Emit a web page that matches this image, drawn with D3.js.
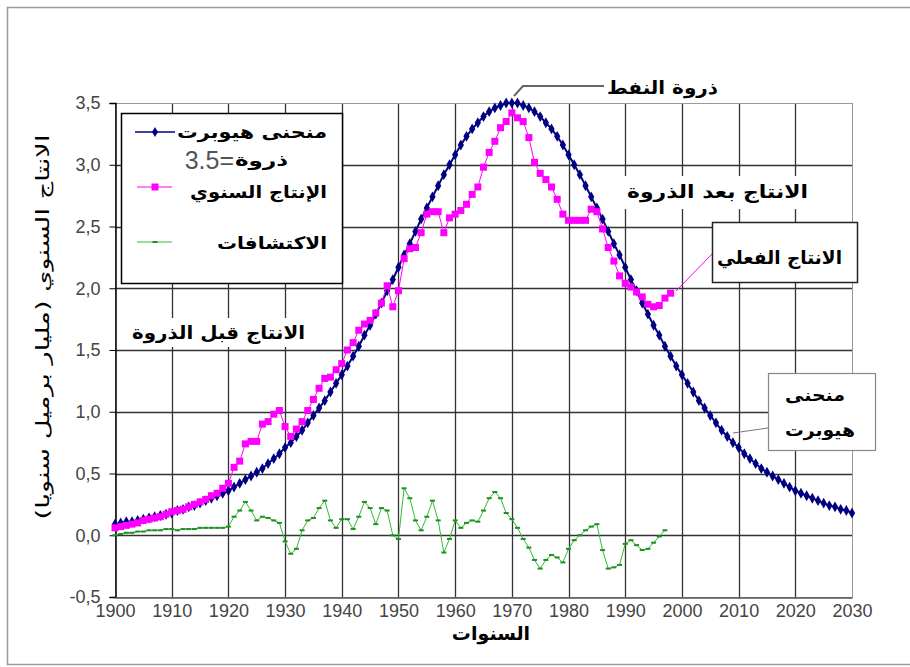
<!DOCTYPE html>
<html>
<head>
<meta charset="utf-8">
<script src="https://cdn.jsdelivr.net/npm/d3@7"></script>
<style>
body { margin:0; background:#fff; }
svg { display:block; }
</style>
</head>
<body>
<svg width="910" height="667"></svg>
<script>
/**********************
* data
**********************/
var x_ticks = [1900,1910,1920,1930,1940,1950,1960,1970,1980,1990,2000,2010,2020,2030]
var y_ticks = [-0.5,0,0.5,1,1.5,2,2.5,3,3.5]

/* hubbert curve, one value per year from 1900 to 2030 */
var hubbert_start = 1900
var hubbert_values = [
  0.09,0.10,0.11,0.11,0.12,0.13,0.14,0.15,0.16,0.17,
  0.18,0.20,0.21,0.23,0.24,0.26,0.28,0.30,0.32,0.34,
  0.36,0.39,0.42,0.45,0.48,0.51,0.54,0.58,0.62,0.66,
  0.71,0.75,0.80,0.85,0.91,0.97,1.03,1.09,1.16,1.23,
  1.30,1.37,1.45,1.53,1.62,1.70,1.79,1.88,1.98,2.07,
  2.17,2.27,2.36,2.46,2.56,2.65,2.74,2.83,2.92,3.00,
  3.08,3.16,3.23,3.29,3.34,3.39,3.43,3.46,3.48,3.50,
  3.50,
  3.50,3.48,3.46,3.43,3.39,3.34,3.29,3.23,3.16,3.08,
  3.00,2.92,2.83,2.74,2.65,2.56,2.46,2.36,2.27,2.17,
  2.07,1.98,1.88,1.79,1.70,1.62,1.53,1.45,1.37,1.30,
  1.23,1.16,1.09,1.03,0.97,0.91,0.85,0.80,0.75,0.71,
  0.66,0.62,0.58,0.54,0.51,0.48,0.45,0.42,0.39,0.36,
  0.34,0.32,0.30,0.28,0.26,0.24,0.23,0.21,0.20,0.18
]

/* annual production, 1900 to 1998 */
var production_start = 1900
var production_values = [
  0.06,0.07,0.08,0.09,0.10,0.12,0.13,0.14,0.15,0.17,
  0.19,0.20,0.21,0.23,0.25,0.27,0.29,0.32,0.34,0.38,
  0.42,0.55,0.60,0.74,0.76,0.76,0.90,0.92,0.98,1.01,
  0.88,0.80,0.86,0.92,1.01,1.10,1.19,1.27,1.28,1.34,
  1.39,1.50,1.56,1.66,1.71,1.74,1.80,1.88,2.02,1.85,
  1.98,2.24,2.32,2.33,2.45,2.60,2.62,2.62,2.45,2.57,
  2.60,2.63,2.68,2.76,2.82,2.98,3.10,3.19,3.30,3.35,
  3.42,3.38,3.35,3.22,3.02,2.93,2.88,2.82,2.72,2.60,
  2.55,2.55,2.55,2.55,2.64,2.62,2.48,2.33,2.22,2.10,
  2.04,2.01,1.97,1.93,1.87,1.85,1.86,1.92,1.96
]

/* discoveries, 1900 to 1997 */
var discovery_start = 1900
var discovery_values = [
  0.00,0.01,0.02,0.02,0.03,0.03,0.04,0.04,0.04,0.05,
  0.05,0.04,0.05,0.05,0.05,0.06,0.06,0.06,0.06,0.06,
  0.07,0.15,0.20,0.27,0.20,0.12,0.15,0.14,0.12,0.10,
  -0.05,-0.15,-0.11,0.04,0.12,0.14,0.22,0.28,0.12,0.06,
  0.13,0.13,0.05,0.15,0.27,0.22,0.09,0.22,0.20,0.00,
  -0.03,0.38,0.30,0.12,0.04,0.15,0.28,0.12,-0.14,-0.03,
  0.12,0.06,0.10,0.12,0.11,0.20,0.30,0.35,0.30,0.18,
  0.13,0.06,-0.03,-0.10,-0.20,-0.27,-0.20,-0.16,-0.18,-0.22,
  -0.11,-0.04,0.00,0.04,0.07,0.09,-0.12,-0.27,-0.26,-0.24,
  -0.07,-0.04,-0.08,-0.12,-0.11,-0.06,-0.01,0.04
]

/**********************
* scales
**********************/
var plot_left = 115
var plot_right = 852
var plot_top = 103
var plot_bottom = 597

var x = d3.scaleLinear().domain([1900, 2030]).range([plot_left, plot_right])
var y = d3.scaleLinear().domain([-0.5, 3.5]).range([plot_bottom, plot_top])

var font_ar = "'DejaVu Sans', sans-serif"
var font_num = "'Liberation Sans', Arial, sans-serif"

function to_points(values, start) {
    return values.map(function(v, i) { return {year: start + i, value: v} })
}

var svg = d3.select("svg")

/* outer frame */
svg.append("rect")
    .attr("x", 7.5).attr("y", 7.5)
    .attr("width", 930).attr("height", 657)
    .attr("fill", "none")
    .attr("stroke", "#999")
    .attr("stroke-width", 1.5)

/**********************
* grid
**********************/
var grid = svg.append("g").attr("class", "grid")

grid.selectAll(".vgrid")
    .data(x_ticks.slice(1, -1))
    .enter()
    .append("line")
    .attr("x1", function(d) { return Math.round(x(d)) + 0.5 })
    .attr("x2", function(d) { return Math.round(x(d)) + 0.5 })
    .attr("y1", plot_top)
    .attr("y2", plot_bottom)
    .attr("stroke", "#333")
    .attr("stroke-width", 1.3)

grid.selectAll(".hgrid")
    .data(y_ticks.slice(1, -1))
    .enter()
    .append("line")
    .attr("x1", plot_left)
    .attr("x2", plot_right)
    .attr("y1", function(d) { return Math.round(y(d)) + 0.5 })
    .attr("y2", function(d) { return Math.round(y(d)) + 0.5 })
    .attr("stroke", "#333")
    .attr("stroke-width", 1.3)

/* plot area border */
grid.append("rect")
    .attr("x", plot_left + 0.5).attr("y", plot_top + 0.5)
    .attr("width", plot_right - plot_left).attr("height", plot_bottom - plot_top)
    .attr("fill", "none")
    .attr("stroke", "#999")

/**********************
* axes
**********************/
var y_axis = svg.append("g")
    .attr("transform", "translate(" + (plot_left + 0.5) + ",0)")
    .call(d3.axisLeft(y)
        .tickValues(y_ticks)
        .tickSize(6)
        .tickPadding(9)
        .tickFormat(function(d) { return d3.format(".1f")(d).replace(".", ",").replace("\u2212", "-") }))

y_axis.select(".domain").attr("stroke", "#000").attr("stroke-width", 1.5)
y_axis.selectAll("line").attr("stroke", "#000")
y_axis.selectAll("text")
    .attr("font-family", font_num)
    .attr("font-size", 18)
    .attr("fill", "#444")

var x_axis = svg.append("g")
    .attr("transform", "translate(0," + (plot_bottom + 0.5) + ")")
    .call(d3.axisBottom(x)
        .tickValues(x_ticks)
        .tickSize(0)
        .tickPadding(7)
        .tickFormat(d3.format("d")))

x_axis.select(".domain").attr("stroke", "#555").attr("stroke-width", 1.5)
x_axis.selectAll("text")
    .attr("font-family", font_num)
    .attr("font-size", 18)
    .attr("fill", "#444")

/* axis titles */
svg.append("text")
    .text("السنوات")
    .attr("x", 491).attr("y", 633)
    .attr("dy", "0.35em")
    .attr("text-anchor", "middle")
    .attr("font-family", font_ar)
    .attr("font-size", 19)
    .attr("font-weight", "bold")
    .attr("fill", "#000")

svg.append("text")
    .text("الانتاج السنوي (مليار برميل سنويا)")
    .attr("transform", "translate(43,327) rotate(-90)")
    .attr("dy", "0.35em")
    .attr("text-anchor", "middle")
    .attr("textLength", 385)
    .attr("lengthAdjust", "spacingAndGlyphs")
    .attr("font-family", font_ar)
    .attr("font-size", 18)
    .attr("fill", "#000")

/**********************
* series
**********************/
var hubbert = to_points(hubbert_values, hubbert_start)
var production = to_points(production_values, production_start)
var discovery = to_points(discovery_values, discovery_start)

var line = d3.line()
    .x(function(d) { return x(d.year) })
    .y(function(d) { return y(d.value) })

/* hubbert curve */
svg.append("path")
    .datum(hubbert)
    .attr("d", line)
    .attr("fill", "none")
    .attr("stroke", "#000080")
    .attr("stroke-width", 2)

svg.append("g").selectAll("path")
    .data(hubbert)
    .enter()
    .append("path")
    .attr("d", d3.symbol().type(d3.symbolDiamond).size(34))
    .attr("transform", function(d) { return "translate(" + x(d.year) + "," + y(d.value) + ")" })
    .attr("fill", "#000080")

/* annual production */
svg.append("path")
    .datum(production)
    .attr("d", line)
    .attr("fill", "none")
    .attr("stroke", "#ff00ff")
    .attr("stroke-width", 1)

svg.append("g").selectAll("rect")
    .data(production)
    .enter()
    .append("rect")
    .attr("x", function(d) { return x(d.year) - 3.5 })
    .attr("y", function(d) { return y(d.value) - 3.5 })
    .attr("width", 7)
    .attr("height", 7)
    .attr("fill", "#ff00ff")

/* discoveries */
svg.append("path")
    .datum(discovery)
    .attr("d", line)
    .attr("fill", "none")
    .attr("stroke", "#33bb33")
    .attr("stroke-width", 1)

svg.append("g").selectAll("rect")
    .data(discovery)
    .enter()
    .append("rect")
    .attr("x", function(d) { return x(d.year) - 2.5 })
    .attr("y", function(d) { return y(d.value) - 1 })
    .attr("width", 5)
    .attr("height", 2)
    .attr("fill", "#1f8f1f")

/**********************
* legend
**********************/
var legend = svg.append("g").attr("class", "legend")

legend.append("rect")
    .attr("x", 121.5).attr("y", 113.5)
    .attr("width", 221).attr("height", 170)
    .attr("fill", "#fff")
    .attr("stroke", "#000")
    .attr("stroke-width", 1.5)

legend.append("line")
    .attr("x1", 135).attr("x2", 175).attr("y1", 132).attr("y2", 132)
    .attr("stroke", "#000080").attr("stroke-width", 1.5)
legend.append("path")
    .attr("d", d3.symbol().type(d3.symbolDiamond).size(30))
    .attr("transform", "translate(155,132)")
    .attr("fill", "#000080")

legend.append("line")
    .attr("x1", 137).attr("x2", 172).attr("y1", 187).attr("y2", 187)
    .attr("stroke", "#ff00ff").attr("stroke-width", 1)
legend.append("rect")
    .attr("x", 151.5).attr("y", 183.5).attr("width", 7).attr("height", 7)
    .attr("fill", "#ff00ff")

legend.append("line")
    .attr("x1", 137).attr("x2", 172).attr("y1", 242).attr("y2", 242)
    .attr("stroke", "#33bb33").attr("stroke-width", 1)
legend.append("rect")
    .attr("x", 152.5).attr("y", 241).attr("width", 5).attr("height", 2)
    .attr("fill", "#1f8f1f")

function ar_text(parent, str, xx, yy, len, size, anchor) {
    return parent.append("text")
        .text(str)
        .attr("x", xx).attr("y", yy)
        .attr("dy", "0.35em")
        .attr("text-anchor", anchor)
        .attr("textLength", len)
        .attr("lengthAdjust", "spacingAndGlyphs")
        .attr("font-family", font_ar)
        .attr("font-size", size)
        .attr("font-weight", "bold")
        .attr("fill", "#000")
}

ar_text(legend, "منحنى هيوبرت", 327, 132, 150, 17, "end")
ar_text(legend, "ذروة", 288, 160, 53, 17, "end")
legend.append("text")
    .text("3.5=")
    .attr("x", 234).attr("y", 160)
    .attr("dy", "0.35em")
    .attr("text-anchor", "end")
    .attr("font-family", font_num)
    .attr("font-size", 25)
    .attr("fill", "#555")
ar_text(legend, "الإنتاج السنوي", 327, 192, 137, 17, "end")
ar_text(legend, "الاكتشافات", 327, 243, 110, 17, "end")

/**********************
* annotations
**********************/
var notes = svg.append("g").attr("class", "notes")

/* peak oil leader */
notes.append("polyline")
    .attr("points", "604,86 523,86 514,96")
    .attr("fill", "none")
    .attr("stroke", "#666")
    .attr("stroke-width", 2)
ar_text(notes, "ذروة النفط", 718, 88, 111, 18, "end")

/* after peak */
notes.append("rect")
    .attr("x", 623).attr("y", 176).attr("width", 189).attr("height", 33)
    .attr("fill", "#fff")
ar_text(notes, "الانتاج بعد الذروة", 808, 192, 181, 18, "end")

/* before peak */
notes.append("rect")
    .attr("x", 128).attr("y", 318).attr("width", 181).attr("height", 29)
    .attr("fill", "#fff")
ar_text(notes, "الانتاج قبل الذروة", 305, 333, 173, 18, "end")

/* actual production box */
notes.append("line")
    .attr("x1", 712).attr("y1", 254).attr("x2", 676).attr("y2", 291)
    .attr("stroke", "#ff00ff").attr("stroke-width", 1)
notes.append("rect")
    .attr("x", 712.5).attr("y", 222.5).attr("width", 145).attr("height", 60)
    .attr("fill", "#fff")
    .attr("stroke", "#222")
    .attr("stroke-width", 1.5)
ar_text(notes, "الانتاج الفعلي", 842, 258, 125, 18, "end")

/* hubbert curve box */
notes.append("line")
    .attr("x1", 768).attr("y1", 428).attr("x2", 733).attr("y2", 433)
    .attr("stroke", "#777").attr("stroke-width", 1)
notes.append("rect")
    .attr("x", 768.5).attr("y", 373.5).attr("width", 107).attr("height", 77)
    .attr("fill", "#fff")
    .attr("stroke", "#888")
    .attr("stroke-width", 1.2)
ar_text(notes, "منحنى", 815, 395, 60, 17, "middle")
ar_text(notes, "هيوبرت", 820, 430, 70, 17, "middle")
</script>
</body>
</html>
